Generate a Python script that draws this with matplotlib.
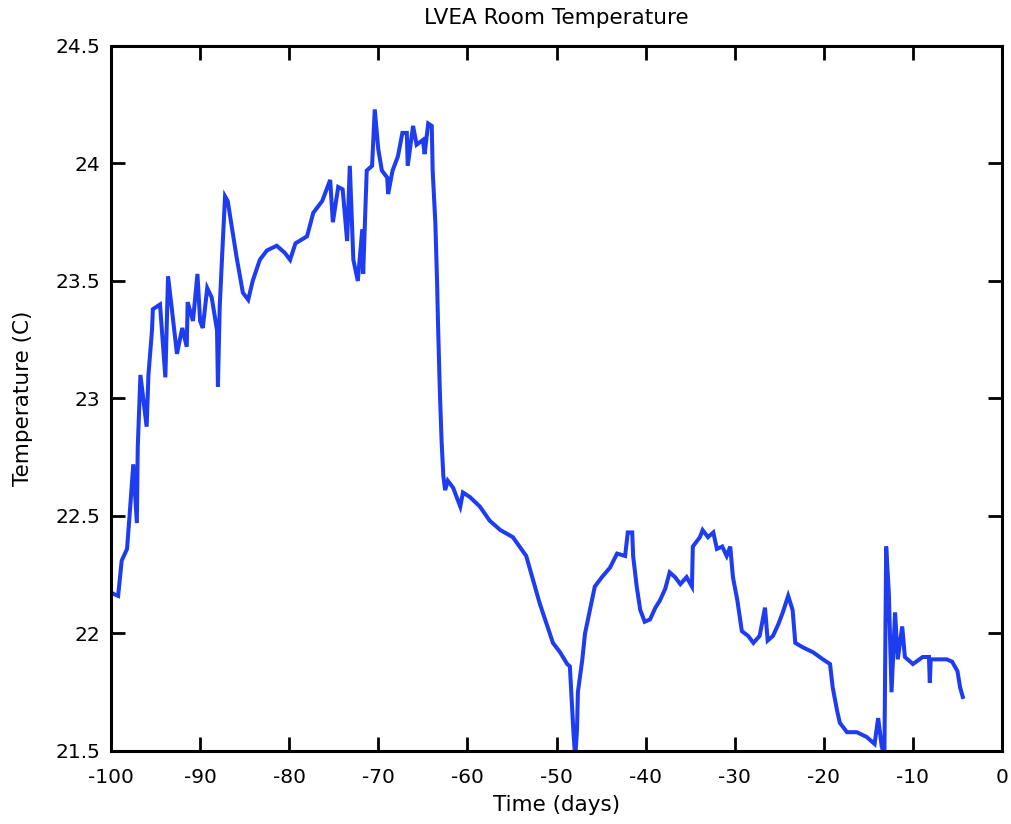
import matplotlib
matplotlib.use("Agg")
import matplotlib.pyplot as plt

days = [-99.8, -99.2, -98.8, -98.2, -97.9, -97.5, -97.1, -97.0, -96.7, -96.0,
        -95.8, -95.4, -95.3, -94.5, -93.9, -93.6, -93.2, -92.6, -92.0, -91.5,
        -91.4, -90.8, -90.3, -90.0, -89.7, -89.2, -88.7, -88.1, -88.0, -87.8,
        -87.5, -87.2, -86.9, -86.4, -85.9, -85.2, -84.6, -84.1, -83.3, -82.5,
        -81.4, -80.5, -79.9, -79.3, -78.0, -77.3, -76.3, -75.4, -75.1, -74.5,
        -74.0, -73.5, -73.2, -72.8, -72.3, -71.8, -71.7, -71.3, -70.7, -70.4,
        -70.0, -69.6, -69.0, -68.9, -68.4, -67.8, -67.3, -66.8, -66.7, -66.1,
        -65.7, -65.0, -64.8, -64.4, -64.0, -63.9, -63.6, -63.4, -63.3, -63.1,
        -62.9, -62.7, -62.5, -62.2, -61.6, -60.8, -60.5, -59.7, -58.6, -57.5,
        -56.3, -54.9, -53.4, -51.9, -51.1, -50.4, -49.6, -48.8, -48.5, -48.3,
        -48.1, -47.9, -47.7, -47.6, -47.1, -46.8, -46.2, -45.7, -44.9, -44.0,
        -43.2, -42.3, -42.0, -41.5, -41.4, -41.0, -40.6, -40.1, -39.5, -38.9,
        -38.4, -37.8, -37.3, -36.7, -36.1, -35.4, -34.8, -34.7, -33.9, -33.6,
        -33.0, -32.4, -32.0, -31.4, -30.9, -30.5, -30.2, -29.7, -29.2, -28.5,
        -27.9, -27.2, -26.6, -26.3, -25.7, -25.1, -24.6, -24.0, -23.5, -23.2,
        -22.3, -21.2, -20.1, -19.3, -19.0, -18.5, -18.2, -17.4, -16.3, -15.2,
        -14.3, -13.9, -13.5, -13.2, -13.0, -12.7, -12.4, -12.0, -11.7, -11.2,
        -10.9, -10.0, -8.9, -8.2, -8.1, -8.0, -6.2, -5.6, -5.0, -4.7, -4.4]

temps = [22.17, 22.16, 22.31, 22.36, 22.51, 22.72, 22.47, 22.79, 23.10, 22.88,
         23.10, 23.29, 23.38, 23.40, 23.09, 23.52, 23.39, 23.19, 23.30, 23.22,
         23.41, 23.33, 23.53, 23.33, 23.30, 23.47, 23.43, 23.29, 23.05, 23.39,
         23.63, 23.86, 23.84, 23.72, 23.60, 23.45, 23.42, 23.50, 23.59, 23.63,
         23.65, 23.62, 23.59, 23.66, 23.69, 23.79, 23.84, 23.93, 23.75, 23.90,
         23.89, 23.67, 23.99, 23.59, 23.50, 23.72, 23.53, 23.97, 23.99, 24.23,
         24.06, 23.97, 23.94, 23.87, 23.97, 24.03, 24.13, 24.13, 23.99, 24.16,
         24.08, 24.10, 24.04, 24.17, 24.16, 23.97, 23.75, 23.49, 23.32, 23.04,
         22.82, 22.67, 22.61, 22.65, 22.62, 22.54, 22.60, 22.58, 22.54, 22.48,
         22.44, 22.41, 22.33, 22.13, 22.04, 21.96, 21.92, 21.87, 21.86, 21.72,
         21.58, 21.47, 21.59, 21.75, 21.89, 22.00, 22.11, 22.20, 22.24, 22.28,
         22.34, 22.33, 22.43, 22.43, 22.33, 22.20, 22.10, 22.05, 22.06, 22.11,
         22.14, 22.19, 22.26, 22.24, 22.21, 22.24, 22.20, 22.37, 22.41, 22.44,
         22.41, 22.43, 22.36, 22.37, 22.33, 22.37, 22.24, 22.14, 22.01, 21.99,
         21.96, 21.99, 22.11, 21.97, 21.99, 22.04, 22.09, 22.16, 22.10, 21.96,
         21.94, 21.92, 21.89, 21.87, 21.77, 21.67, 21.62, 21.58, 21.58, 21.56,
         21.53, 21.64, 21.52, 21.48, 22.37, 22.17, 21.75, 22.09, 21.89, 22.03,
         21.90, 21.87, 21.90, 21.90, 21.79, 21.89, 21.89, 21.88, 21.84, 21.77, 21.73]

xticks = [-100, -90, -80, -70, -60, -50, -40, -30, -20, -10, 0]
yticks = [21.5, 22, 22.5, 23, 23.5, 24, 24.5]
ytick_labels = ["21.5", "22", "22.5", "23", "23.5", "24", "24.5"]

plt.rcParams['font.family'] = ['DejaVu Sans']

fig = plt.figure(figsize=(10.11, 8.24), dpi=100)
ax = fig.add_axes([0.1098, 0.0886, 0.8813, 0.8556])
ax.plot(days, temps, color='#1e3cf0', linewidth=2.9, solid_joinstyle='miter')
ax.set_xlim(-100, 0)
ax.set_ylim(21.5, 24.5)
ax.set_xticks(xticks)
ax.set_xticklabels([str(t) for t in xticks])
ax.set_yticks(yticks)
ax.set_yticklabels(ytick_labels)
ax.tick_params(direction='in', length=10, width=2, top=True, right=True,
               labelsize=14.5, color='black')
ax.tick_params(axis='x', pad=12)
ax.tick_params(axis='y', pad=8)
for s in ax.spines.values():
    s.set_linewidth(2.2)
ax.set_title('LVEA Room Temperature', fontsize=15.5, pad=16)
ax.set_xlabel('Time (days)', fontsize=15.5, labelpad=6)
ax.set_ylabel('Temperature (C)', fontsize=15.5, labelpad=16)
fig.savefig('out.png', dpi=100)
